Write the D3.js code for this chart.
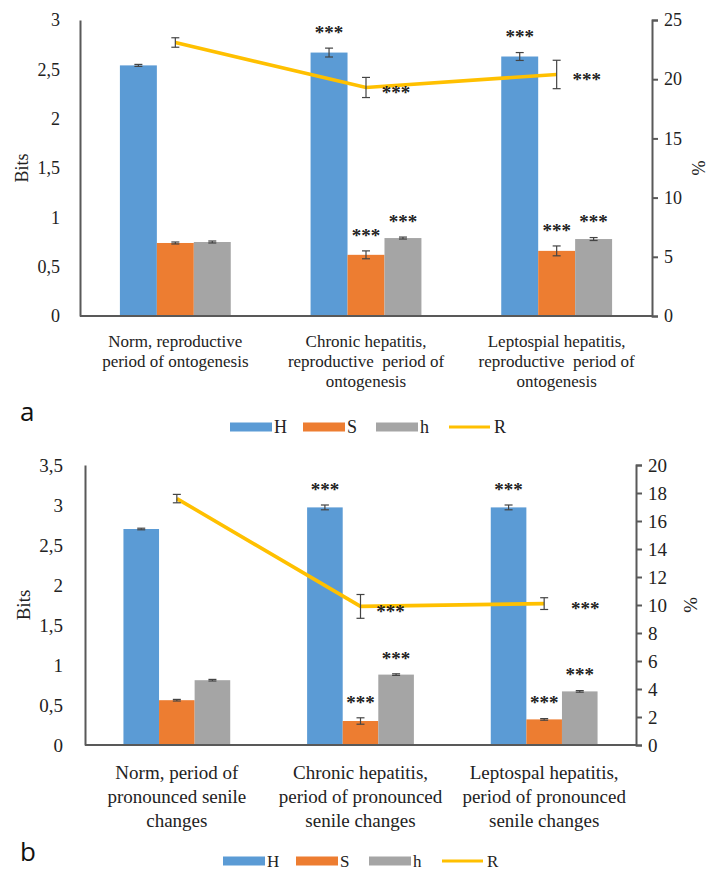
<!DOCTYPE html>
<html>
<head>
<meta charset="utf-8">
<script src="https://cdn.jsdelivr.net/npm/d3@7"></script>
<style>
  body { margin: 0; background: #fff; }
  svg text { font-family: "Liberation Serif", "DejaVu Serif", "Times New Roman", serif; }
  svg text.letter { font-family: "Open Sans", "DejaVu Sans", sans-serif; }
</style>
</head>
<body>
<div id="chart"></div>
<script>
// series keys and colours
const seriesKeys = ["H", "S", "h"];
const lineKey = "R";

// panel a: reproductive period
const categoriesA = [
  ["Norm, reproductive", "period of ontogenesis"],
  ["Chronic hepatitis,", "reproductive  period of", "ontogenesis"],
  ["Leptospial hepatitis,", "reproductive  period of", "ontogenesis"]
];
const H_A = [2.54, 2.67, 2.63];
const S_A = [0.74, 0.62, 0.66];
const h_A = [0.75, 0.79, 0.78];
const R_A = [23.1, 19.3, 20.4];
const errH_A = [0.01, 0.045, 0.04];
const errS_A = [0.01, 0.04, 0.05];
const errh_A = [0.01, 0.01, 0.015];
const errR_A = [0.4, 0.85, 1.2];
const starsA = { H: [0, 1, 1], S: [0, 1, 1], h: [0, 1, 1], R: [0, 1, 1] };
const leftTicksA = [0, 0.5, 1, 1.5, 2, 2.5, 3];
const rightTicksA = [0, 5, 10, 15, 20, 25];

// panel b: period of pronounced senile changes
const categoriesB = [
  ["Norm, period of", "pronounced senile", "changes"],
  ["Chronic hepatitis,", "period of pronounced", "senile changes"],
  ["Leptospal hepatitis,", "period of pronounced", "senile changes"]
];
const H_B = [2.70, 2.97, 2.97];
const S_B = [0.56, 0.30, 0.32];
const h_B = [0.81, 0.88, 0.67];
const R_B = [17.6, 9.9, 10.1];
const errH_B = [0.01, 0.03, 0.03];
const errS_B = [0.01, 0.04, 0.01];
const errh_B = [0.01, 0.01, 0.01];
const errR_B = [0.3, 0.85, 0.42];
const starsB = { H: [0, 1, 1], S: [0, 1, 1], h: [0, 1, 1], R: [0, 1, 1] };
const leftTicksB = [0, 0.5, 1, 1.5, 2, 2.5, 3, 3.5];
const rightTicksB = [0, 2, 4, 6, 8, 10, 12, 14, 16, 18, 20];

const colors = { H: "#5b9bd5", S: "#ed7d31", h: "#a5a5a5", R: "#ffc000" };
const axisColor = "#595959";
const serif = "Liberation Serif, DejaVu Serif, serif";
const fmt = v => String(v).replace(".", ",");

const svg = d3.select("#chart").append("svg")
  .attr("width", 712)
  .attr("height", 871);

function drawPanel(p) {
  const g = svg.append("g");

  const x0 = d3.scaleBand().domain(d3.range(p.cats.length))
    .range([p.left, p.right]).padding(0);
  const x1 = d3.scaleBand().domain(seriesKeys)
    .range([0, x0.bandwidth()]).paddingInner(0).paddingOuter(1.08);
  const yL = d3.scaleLinear().domain([0, p.leftMax]).range([p.bottom, p.top]);
  const yR = d3.scaleLinear().domain([0, p.rightMax]).range([p.bottom, p.top]);

  const rows = p.cats.map((c, i) => ({
    i,
    H: p.H[i], S: p.S[i], h: p.h[i], R: p.R[i],
    err: { H: p.errH[i], S: p.errS[i], h: p.errh[i], R: p.errR[i] }
  }));

  // bars
  const groups = g.selectAll(".grp").data(rows).join("g")
    .attr("transform", d => `translate(${x0(d.i)},0)`);
  groups.selectAll("rect").data(d => seriesKeys.map(k => ({ k, v: d[k], e: d.err[k], i: d.i })))
    .join("rect")
    .attr("x", d => x1(d.k))
    .attr("y", d => yL(d.v))
    .attr("width", x1.bandwidth())
    .attr("height", d => yL(0) - yL(d.v))
    .attr("fill", d => colors[d.k]);

  // bar error bars
  groups.selectAll(".err").data(d => seriesKeys.map(k => ({ k, v: d[k], e: d.err[k], i: d.i })))
    .join("g").attr("class", "err")
    .each(function (d) {
      const cx = x1(d.k) + x1.bandwidth() / 2;
      drawErr(d3.select(this), cx, yL(d.v + d.e), yL(d.v - d.e));
    });

  // stars over bars
  groups.selectAll(".star").data(d => seriesKeys.filter(k => p.stars[k][d.i]).map(k => ({ k, v: d[k], e: d.err[k] })))
    .join("text").attr("class", "star")
    .attr("x", d => x1(d.k) + x1.bandwidth() / 2)
    .attr("y", d => yL(d.v + d.e) - 21)
    .attr("dy", "0.62em")
    .attr("text-anchor", "middle")
    .attr("font-size", p.starSize)
    .attr("font-weight", "bold")
    .attr("fill", "#222")
    .text("***");

  // R line
  const cx = i => x0(i) + x0.bandwidth() / 2;
  g.append("path")
    .datum(rows)
    .attr("d", d3.line().x(d => cx(d.i)).y(d => yR(d.R)))
    .attr("fill", "none")
    .attr("stroke", colors.R)
    .attr("stroke-width", 3.6);
  rows.forEach(d => {
    drawErr(g.append("g"), cx(d.i), yR(d.R + d.err.R), yR(d.R - d.err.R));
    if (p.stars.R[d.i]) {
      g.append("text")
        .attr("x", cx(d.i) + p.rStarDx[d.i])
        .attr("y", yR(d.R))
        .attr("dy", "0.62em")
        .attr("text-anchor", "middle")
        .attr("font-size", p.starSize)
        .attr("font-weight", "bold")
        .attr("fill", "#222")
        .text("***");
    }
  });

  // axes
  const axL = g.append("g").attr("transform", `translate(${p.left},0)`)
    .call(d3.axisLeft(yL).tickValues(p.leftTicks).tickFormat(fmt).tickSize(0).tickPadding(p.tickPad));
  const axR = g.append("g").attr("transform", `translate(${p.right},0)`)
    .call(d3.axisRight(yR).tickValues(p.rightTicks).tickFormat(fmt).tickSize(6).tickPadding(6));
  const axB = g.append("g").attr("transform", `translate(0,${p.bottom})`)
    .call(d3.axisBottom(x0).tickSize(0).tickFormat(""));
  [axL, axR, axB].forEach(a => {
    a.attr("font-family", serif).attr("font-size", p.tickSize);
    a.select(".domain").attr("stroke", axisColor).attr("stroke-width", 2);
    a.selectAll(".tick line").attr("stroke", axisColor).attr("stroke-width", 2);
    a.selectAll("text").attr("fill", "#222");
  });
  axB.select(".domain").attr("d", `M${p.left},0H${p.right}`);

  // category labels
  p.cats.forEach((lines, i) => {
    const t = g.append("text")
      .attr("x", cx(i))
      .attr("y", p.catY)
      .attr("text-anchor", "middle")
      .attr("font-size", p.catSize)
      .attr("fill", "#222")
      .style("white-space", "pre");
    lines.forEach((l, j) => t.append("tspan").attr("x", cx(i)).attr("dy", j ? p.catLine : 0).text(l));
  });

  // axis titles
  g.append("text")
    .attr("transform", `translate(${p.bitsX},${(p.top + p.bottom) / 2}) rotate(-90)`)
    .attr("text-anchor", "middle").attr("font-size", p.tickSize).attr("fill", "#222")
    .text("Bits");
  g.append("text")
    .attr("transform", `translate(${p.pctX},${(p.top + p.bottom) / 2}) rotate(90)`)
    .attr("text-anchor", "middle").attr("font-size", p.tickSize).attr("fill", "#222")
    .text("%");

  // panel letter
  g.append("text").attr("class", "letter")
    .attr("x", p.letterX).attr("y", p.letterY)
    .attr("font-size", 26).attr("fill", "#111")
    .text(p.letter);

  // legend
  const lg = g.append("g").attr("transform", `translate(${p.legX},${p.legY})`);
  const items = seriesKeys.concat([lineKey]);
  items.forEach((k, i) => {
    const it = lg.append("g").attr("transform", `translate(${i * p.legStep},0)`);
    if (k === lineKey) {
      it.append("line").attr("x1", 0).attr("x2", 41).attr("y1", 0).attr("y2", 0)
        .attr("stroke", colors[k]).attr("stroke-width", 3);
    } else {
      it.append("rect").attr("x", 0).attr("y", -4.5).attr("width", 42).attr("height", 9)
        .attr("fill", colors[k]);
    }
    it.append("text").attr("x", k === lineKey ? 45 : 44).attr("y", 0).attr("dy", "0.33em")
      .attr("font-size", p.legSize).attr("fill", "#222").text(k);
  });
}

function drawErr(sel, x, y1, y2) {
  const c = "#444";
  sel.append("line").attr("x1", x).attr("x2", x).attr("y1", y1).attr("y2", y2).attr("stroke", c).attr("stroke-width", 1.2);
  sel.append("line").attr("x1", x - 4).attr("x2", x + 4).attr("y1", y1).attr("y2", y1).attr("stroke", c).attr("stroke-width", 1.2);
  sel.append("line").attr("x1", x - 4).attr("x2", x + 4).attr("y1", y2).attr("y2", y2).attr("stroke", c).attr("stroke-width", 1.2);
}

drawPanel({
  cats: categoriesA, H: H_A, S: S_A, h: h_A, R: R_A,
  errH: errH_A, errS: errS_A, errh: errh_A, errR: errR_A, stars: starsA,
  leftTicks: leftTicksA, rightTicks: rightTicksA, leftMax: 3, rightMax: 25,
  left: 80, right: 652, top: 20, bottom: 316,
  tickPad: 20, tickSize: 18, catSize: 17, catY: 347, catLine: 20,
  starSize: 19, rStarDx: [0, 30, 30],
  bitsX: 28, pctX: 692, letter: "a", letterX: 20, letterY: 421,
  legX: 230, legY: 427, legStep: 73, legSize: 18
});

drawPanel({
  cats: categoriesB, H: H_B, S: S_B, h: h_B, R: R_B,
  errH: errH_B, errS: errS_B, errh: errh_B, errR: errR_B, stars: starsB,
  leftTicks: leftTicksB, rightTicks: rightTicksB, leftMax: 3.5, rightMax: 20,
  left: 85, right: 636, top: 465, bottom: 745,
  tickPad: 22, tickSize: 19, catSize: 19, catY: 779, catLine: 24,
  starSize: 19, rStarDx: [0, 30, 41],
  bitsX: 30, pctX: 684, letter: "b", letterX: 20, letterY: 861,
  legX: 223, legY: 861, legStep: 73, legSize: 17
});
</script>
</body>
</html>
